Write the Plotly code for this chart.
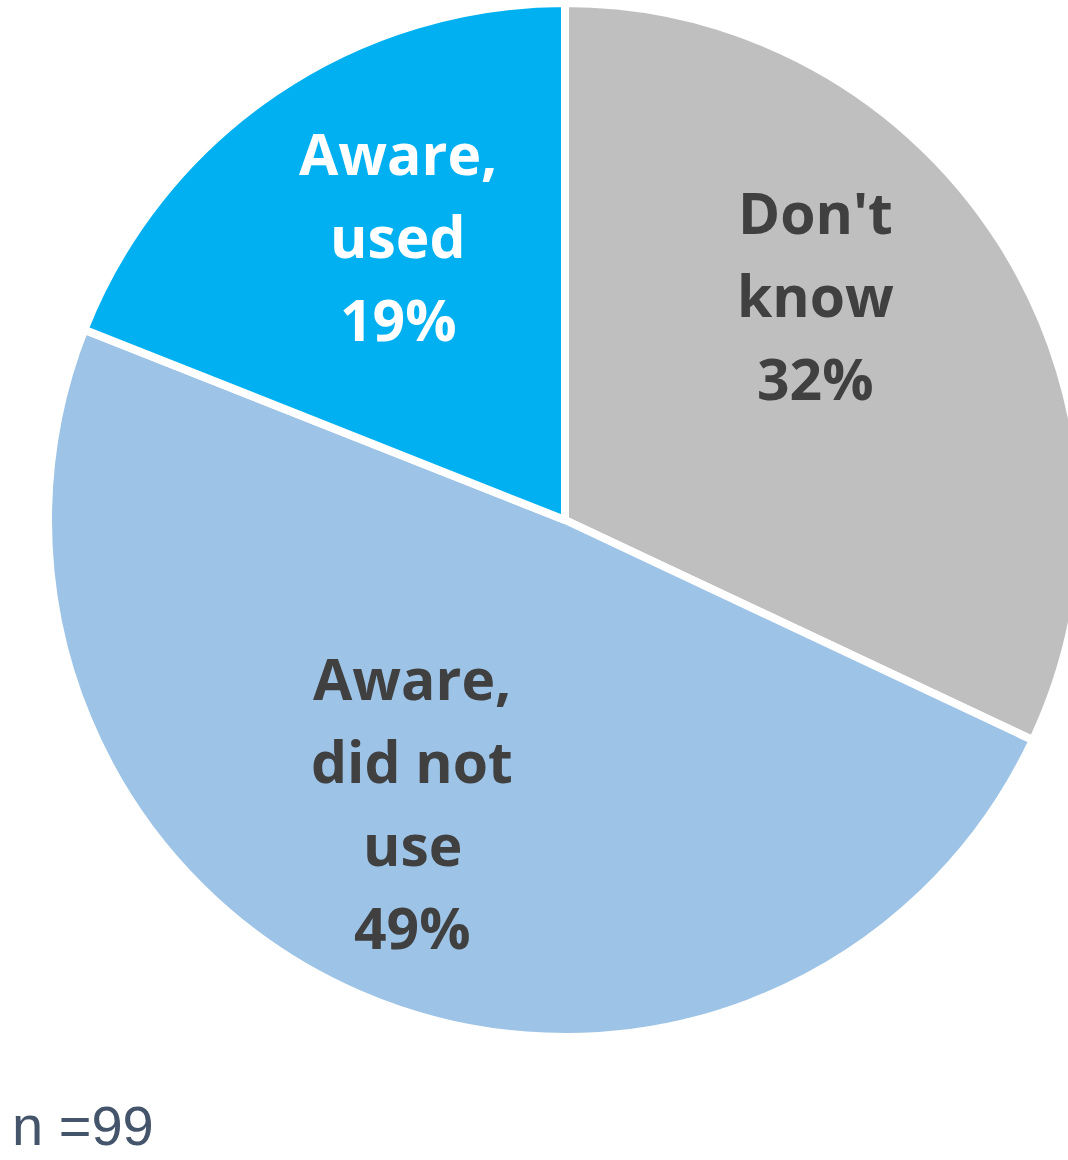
import plotly.graph_objects as go

# Data
categories = ["Don't know", "Aware, did not use", "Aware, used"]
values = [32, 49, 19]
label_lines = [["Don't", "know"], ["Aware,", "did not", "use"], ["Aware,", "used"]]
colors = ["#BFBFBF", "#9DC3E6", "#00B0F0"]
text_colors = ["#404040", "#404040", "#FFFFFF"]
note = "n =99"

W, H = 1100, 1160  # figure size (right edge of pie is cut off by the window, as in the reference)
cx, cy, r = 565, 520, 517

fig = go.Figure(go.Pie(
    labels=categories,
    values=values,
    sort=False,
    direction="clockwise",
    rotation=0,
    marker=dict(colors=colors, line=dict(color="#FFFFFF", width=8)),
    textinfo="none",
    hoverinfo="label+percent",
    domain=dict(x=[(cx - r) / W, (cx + r) / W],
                y=[(H - cy - r) / H, (H - cy + r) / H]),
    showlegend=False,
))

# label block centres (pixel positions) and line spacing
centres = [(815, 295), (412, 802), (398, 236)]
spacing = 83
annotations = []
for lines, v, (px, py), tc in zip(label_lines, values, centres, text_colors):
    all_lines = lines + [f"{v}%"]
    n = len(all_lines)
    for i, t in enumerate(all_lines):
        y_line = py + (i - (n - 1) / 2) * spacing
        annotations.append(dict(
            text=f"<b>{t}</b>", x=px / W, y=1 - y_line / H,
            xref="paper", yref="paper", showarrow=False,
            xanchor="center", yanchor="middle",
            font=dict(family="Open Sans", size=57, color=tc),
        ))

annotations.append(dict(
    text=note, x=10 / W, y=1 - 1125 / H, xref="paper", yref="paper",
    showarrow=False, xanchor="left", yanchor="middle",
    font=dict(family="Liberation Sans, Arial", size=56, color="#44546A"),
))

fig.update_layout(
    width=W, height=H,
    margin=dict(l=0, r=0, t=0, b=0),
    paper_bgcolor="#FFFFFF", plot_bgcolor="#FFFFFF",
    annotations=annotations,
)

fig.write_html(
    "out.html",
    config={"displayModeBar": False},
    post_script="document.body.style.margin='0';document.body.style.overflow='hidden';"
                "document.documentElement.style.overflow='hidden';",
)
